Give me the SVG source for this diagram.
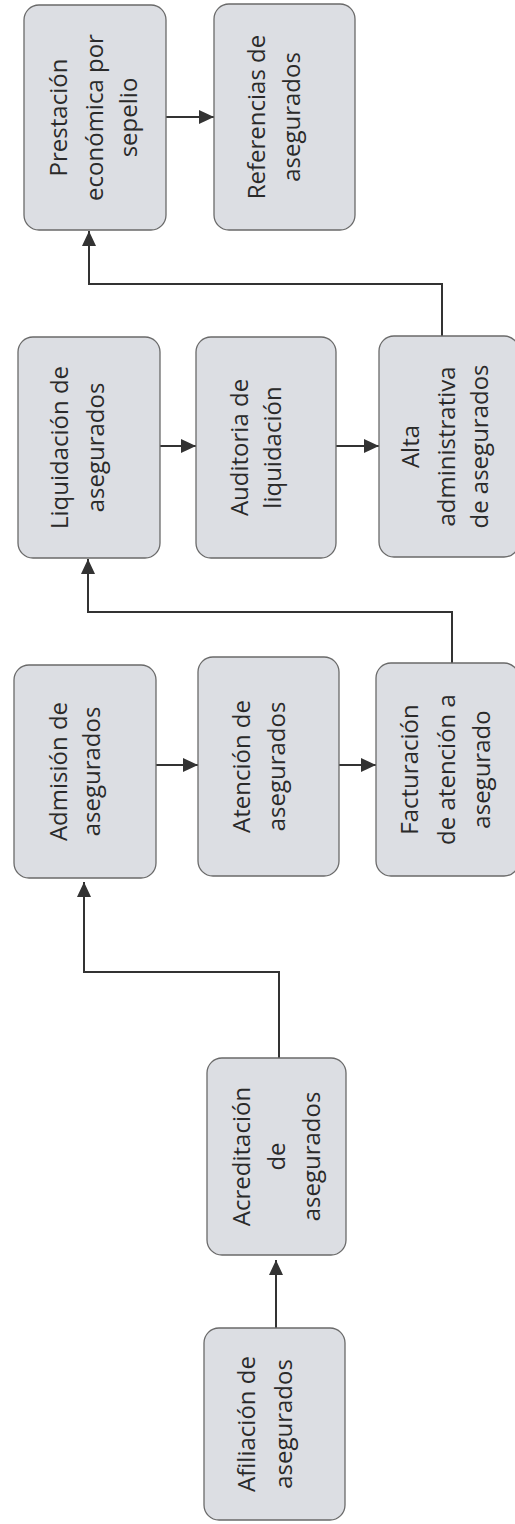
<svg xmlns="http://www.w3.org/2000/svg" width="515" height="1524" viewBox="0 0 515 1524">
<style>
.box{fill:#dcdee3;stroke:#6a6a6a;stroke-width:1.3}
.lbl{font-family:"Open Sans","Noto Sans",sans-serif;font-size:24px;fill:#2a2a2a;text-anchor:middle}
.con{fill:none;stroke:#333;stroke-width:2;marker-end:url(#ah)}
</style>
<defs>
<marker id="ah" markerUnits="userSpaceOnUse" markerWidth="15" markerHeight="14" refX="15" refY="7" orient="auto">
<path d="M0,0 L15,7 L0,14 z" fill="#333"/>
</marker>
</defs>
<rect width="515" height="1524" fill="#fff"/>
<g id="connectors">
<path class="con" d="M166,117 H214"/>
<path class="con" d="M442,336 V284 H89 V231"/>
<path class="con" d="M160,446 H196"/>
<path class="con" d="M336,446 H379"/>
<path class="con" d="M452,663 V612 H88 V559"/>
<path class="con" d="M156,765 H198"/>
<path class="con" d="M339,765 H376"/>
<path class="con" d="M279,1058 V972 H84 V882"/>
<path class="con" d="M276,1328 V1260"/>
</g>
<g id="n-prestacion">
<rect class="box" x="24" y="5" width="142" height="225" rx="15"/>
<text class="lbl" transform="translate(95,117.5) rotate(-90)"><tspan x="0" y="-28">Prestación</tspan><tspan x="0" y="8">económica por</tspan><tspan x="0" y="42">sepelio</tspan></text>
</g>
<g id="n-referencias">
<rect class="box" x="214" y="4" width="141" height="226" rx="15"/>
<text class="lbl" transform="translate(284.5,117) rotate(-90)"><tspan x="0" y="-19.5">Referencias de</tspan><tspan x="0" y="15.5">asegurados</tspan></text>
</g>
<g id="n-liquidacion">
<rect class="box" x="18" y="337" width="142" height="221" rx="15"/>
<text class="lbl" transform="translate(89,447.5) rotate(-90)"><tspan x="0" y="-21">Liquidación de</tspan><tspan x="0" y="15">asegurados</tspan></text>
</g>
<g id="n-auditoria">
<rect class="box" x="196" y="337" width="140" height="221" rx="15"/>
<text class="lbl" transform="translate(266,447.5) rotate(-90)"><tspan x="0" y="-18">Auditoria de</tspan><tspan x="0" y="15">liquidación</tspan></text>
</g>
<g id="n-alta">
<rect class="box" x="379" y="336" width="140" height="221" rx="15"/>
<text class="lbl" transform="translate(447,446.5) rotate(-90)"><tspan x="0" y="-28">Alta</tspan><tspan x="0" y="8">administrativa</tspan><tspan x="0" y="41">de asegurados</tspan></text>
</g>
<g id="n-admision">
<rect class="box" x="14" y="665" width="142" height="213" rx="15"/>
<text class="lbl" transform="translate(85,771.5) rotate(-90)"><tspan x="0" y="-18">Admisión de</tspan><tspan x="0" y="15">asegurados</tspan></text>
</g>
<g id="n-atencion">
<rect class="box" x="198" y="657" width="141" height="219" rx="15"/>
<text class="lbl" transform="translate(268.5,766.5) rotate(-90)"><tspan x="0" y="-18.5">Atención de</tspan><tspan x="0" y="16.5">asegurados</tspan></text>
</g>
<g id="n-facturacion">
<rect class="box" x="376" y="663" width="143" height="213" rx="15"/>
<text class="lbl" transform="translate(445.5,769.5) rotate(-90)"><tspan x="0" y="-27.5">Facturación</tspan><tspan x="0" y="9">de atención a</tspan><tspan x="0" y="44">asegurado</tspan></text>
</g>
<g id="n-acreditacion">
<rect class="box" x="207" y="1058" width="139" height="197" rx="15"/>
<text class="lbl" transform="translate(276.5,1156.5) rotate(-90)"><tspan x="0" y="-26.5">Acreditación</tspan><tspan x="0" y="8.5">de</tspan><tspan x="0" y="43.5">asegurados</tspan></text>
</g>
<g id="n-afiliacion">
<rect class="box" x="204" y="1328" width="141" height="192" rx="15"/>
<text class="lbl" transform="translate(274.5,1424) rotate(-90)"><tspan x="0" y="-19.5">Afiliación de</tspan><tspan x="0" y="17.5">asegurados</tspan></text>
</g>
</svg>
